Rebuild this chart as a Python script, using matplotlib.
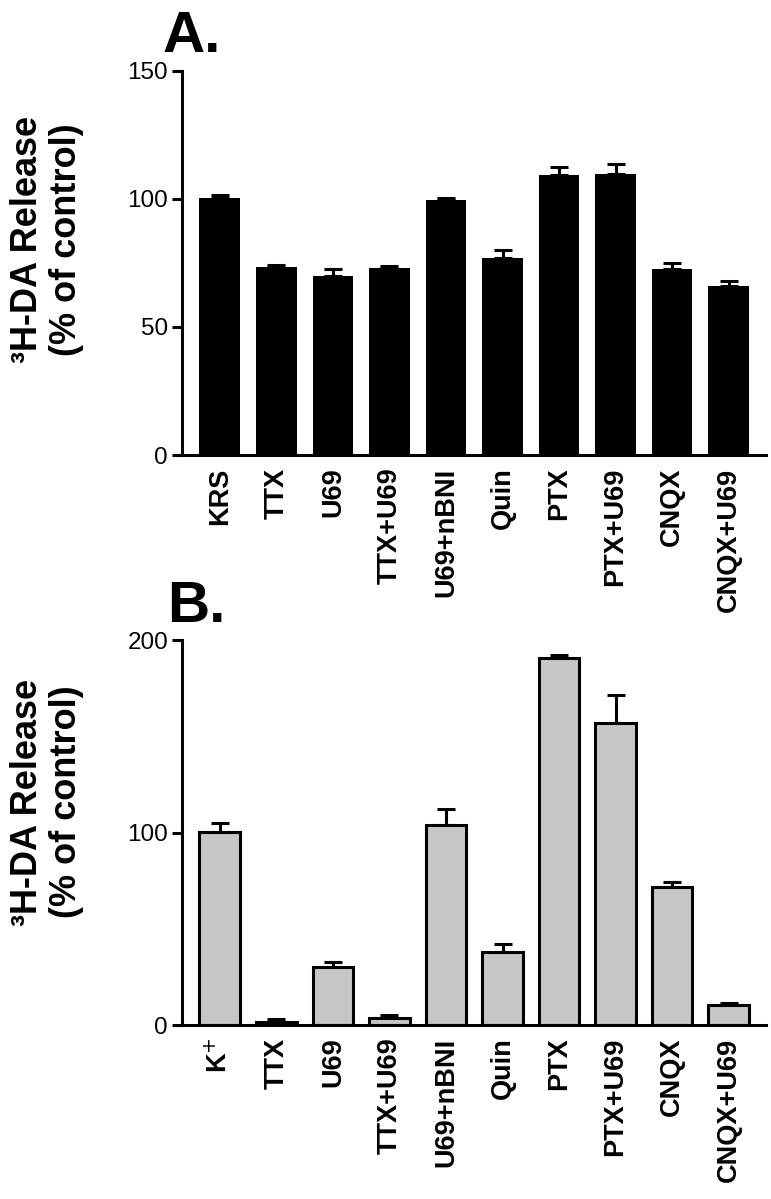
import numpy as np
import matplotlib
matplotlib.use('Agg')
import matplotlib.pyplot as plt

plt.rcParams['font.family'] = ['Liberation Sans', 'DejaVu Sans']

# Panel A: low-K+ (basal) release
labels_a = ['KRS', 'TTX', 'U69', 'TTX+U69', 'U69+nBNI', 'Quin', 'PTX',
            'PTX+U69', 'CNQX', 'CNQX+U69']
vals_a = [100.5, 73.5, 69.8, 73.1, 99.7, 77.1, 109.4, 109.6, 72.6, 65.9]
err_a = [0.9, 0.8, 2.9, 0.8, 0.7, 3.1, 3.1, 4.1, 2.2, 2.1]

# Panel B: K+-evoked release
labels_b = ['K$^{+}$', 'TTX', 'U69', 'TTX+U69', 'U69+nBNI', 'Quin', 'PTX',
            'PTX+U69', 'CNQX', 'CNQX+U69']
vals_b = [100.3, 1.6, 30.0, 3.8, 104.1, 38.0, 190.8, 157.0, 71.6, 10.2]
err_b = [4.7, 1.3, 3.0, 1.2, 8.1, 4.2, 1.4, 14.2, 2.8, 1.1]

ylabel = '³H-DA Release\n(% of control)'

fig = plt.figure(figsize=(7.71, 11.99), dpi=100)
ax_a = fig.add_axes([0.236, 0.6205, 0.7575, 0.3205])
ax_b = fig.add_axes([0.236, 0.1451, 0.7575, 0.3211])


def draw_panel(ax, labels, vals, errs, face, edge_lw, ymax, yticks):
    x = np.arange(len(vals))
    ax.bar(x, vals, width=0.72, color=face, edgecolor='black',
           linewidth=edge_lw, zorder=2)
    ax.errorbar(x, vals, yerr=[np.zeros(len(errs)), errs], fmt='none',
                ecolor='black', elinewidth=2.2, capsize=6.5, capthick=2.2,
                zorder=1)
    ax.set_xlim(-0.67, 9.66)
    ax.set_ylim(0, ymax)
    ax.set_yticks(yticks)
    ax.set_xticks(x)
    ax.set_xticklabels(labels, rotation=90, fontsize=19.5,
                       fontweight='bold', va='top')
    ax.tick_params(axis='x', length=0, pad=9)
    ax.tick_params(axis='y', length=7, width=2.2, labelsize=17.5, pad=3)
    for side in ['top', 'right']:
        ax.spines[side].set_visible(False)
    for side in ['left', 'bottom']:
        ax.spines[side].set_linewidth(2.2)


draw_panel(ax_a, labels_a, vals_a, err_a, 'black', 0, 150, [0, 50, 100, 150])
draw_panel(ax_b, labels_b, vals_b, err_b, '#c6c6c6', 2.2, 200, [0, 100, 200])

fig.text(0.061, 0.8, ylabel, rotation=90, ha='center', va='center',
         fontsize=26, fontweight='bold', linespacing=1.15,
         multialignment='center')
fig.text(0.061, 0.331, ylabel, rotation=90, ha='center', va='center',
         fontsize=26, fontweight='bold', linespacing=1.15,
         multialignment='center')

fig.text(0.211, 0.9566, 'A.', fontsize=42, fontweight='bold',
         va='baseline', ha='left')
fig.text(0.2166, 0.481, 'B.', fontsize=42, fontweight='bold',
         va='baseline', ha='left')

fig.savefig('out.png', dpi=100)
